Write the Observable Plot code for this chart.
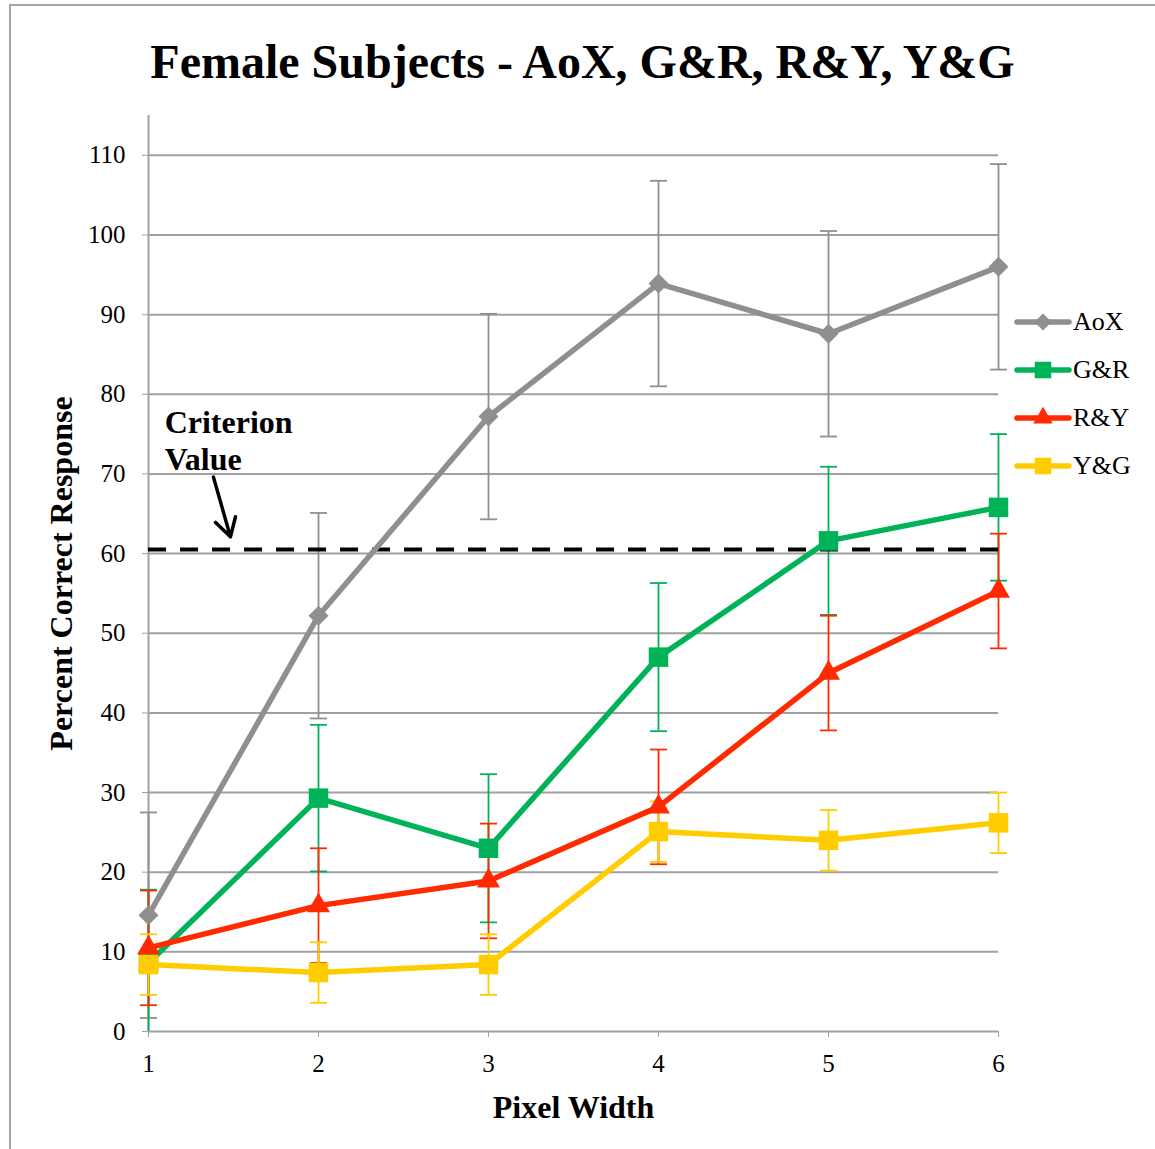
<!DOCTYPE html>
<html>
<head>
<meta charset="utf-8">
<script src="https://cdn.jsdelivr.net/npm/d3@7"></script>
<script src="https://cdn.jsdelivr.net/npm/@observablehq/plot@0.6"></script>
<style>
  html, body { margin: 0; padding: 0; background: #fff; }
  #wrap { position: relative; width: 1155px; height: 1149px; overflow: hidden; font-family: "Liberation Serif", "Times New Roman", serif; }
  #border { position: absolute; left: 9px; top: 4px; right: -5px; bottom: -5px; border-top: 2px solid #a6a6a6; border-left: 2px solid #a6a6a6; }
  #title { position: absolute; left: 0; top: 0; width: 1155px; height: 100px; text-align: center; }
  #title span { position: absolute; left: 0; right: -10px; top: 38px; font-weight: bold; font-size: 48px; line-height: 1; }
  #chart { position: absolute; left: 0; top: 100px; }
  #legend { position: absolute; left: 1013px; top: 302px; }
  .item { height: 48px; display: flex; align-items: flex-start; }
  .item svg { display: block; }
  .item span { font-size: 26px; line-height: 40px; margin-left: 1px; }
</style>
</head>
<body>
<div id="wrap">
  <div id="border"></div>
  <div id="title"><span>Female Subjects - AoX, G&amp;R, R&amp;Y, Y&amp;G</span></div>
  <div id="chart"></div>
  <div id="legend"></div>
</div>
<script>
// ---- data ----
const pixelWidth = [1, 2, 3, 4, 5, 6];
const seriesNames = ["AoX", "G&R", "R&Y", "Y&G"];
const aoxMean = [14.6, 52.2, 77.2, 93.9, 87.6, 96.0];
const aoxErr  = [12.9, 12.9, 12.9, 12.9, 12.9, 12.9];
const grMean  = [8.6, 29.3, 23.0, 47.0, 61.6, 65.8];
const grErr   = [9.2, 9.2, 9.3, 9.3, 9.3, 9.2];
const ryMean  = [10.5, 15.8, 18.9, 28.2, 45.0, 55.3];
const ryErr   = [7.2, 7.2, 7.2, 7.2, 7.2, 7.2];
const ygMean  = [8.4, 7.4, 8.4, 25.1, 24.0, 26.2];
const ygErr   = [3.8, 3.8, 3.8, 3.8, 3.8, 3.8];
const yTicks = [0, 10, 20, 30, 40, 50, 60, 70, 80, 90, 100, 110];
const criterionValue = [60.5];
const criterionLabel = ["Criterion\nValue"];
const criterionLabelX = [1.095];
const criterionLabelY = [74.35];
const arrowFrom = [1.382, 69.6];
const arrowTo = [1.482, 62.1];

// ---- styles ----
const colors = { "AoX": "#8f8f8f", "G&R": "#00b359", "R&Y": "#ff2a00", "Y&G": "#ffcc00" };
const symbols = { "AoX": "diamond2", "G&R": "square", "R&Y": "triangle", "Y&G": "square" };
const radii = { "AoX": 9, "G&R": 11, "R&Y": 8.5, "Y&G": 11 };
const gridColor = "#a0a0a0";

const means = [aoxMean, grMean, ryMean, ygMean];
const errs = [aoxErr, grErr, ryErr, ygErr];
const data = seriesNames.flatMap((s, i) => pixelWidth.map((x, j) => ({
  series: s, x, y: means[i][j], lo: means[i][j] - errs[i][j], hi: means[i][j] + errs[i][j]
})));

const capSymbol = {
  draw(ctx, size) {
    const r = Math.sqrt(size / Math.PI);
    ctx.moveTo(-r, 0); ctx.lineTo(r, 0);
  }
};

const marks = [
  Plot.gridY(yTicks, { stroke: gridColor, strokeOpacity: 1, strokeWidth: 2 }),
  Plot.ruleX([1], { y1: 0, y2: 115, stroke: gridColor, strokeWidth: 2 }),
  Plot.axisY({ ticks: yTicks, tickSize: 6, tickPadding: 17, stroke: gridColor, fill: "black", label: null }),
  Plot.axisX({ ticks: pixelWidth, tickSize: 6, tickPadding: 17, tickFormat: d => String(d), stroke: gridColor, fill: "black", label: null }),
];

for (const s of seriesNames) {
  const d = data.filter(e => e.series === s);
  marks.push(
    Plot.ruleX(d, { x: "x", y1: e => Math.max(0, e.lo), y2: "hi", stroke: colors[s], strokeWidth: 1.8 }),
    Plot.dot(d, { x: "x", y: "hi", symbol: capSymbol, r: 8.5, stroke: colors[s], strokeWidth: 1.8, fill: "none" }),
    Plot.dot(d.filter(e => e.lo >= 0), { x: "x", y: "lo", symbol: capSymbol, r: 8.5, stroke: colors[s], strokeWidth: 1.8, fill: "none" })
  );
}
marks.push(
  Plot.ruleY(criterionValue, { stroke: "black", strokeWidth: 4, strokeDasharray: "18,14" })
);
for (const s of seriesNames) {
  const d = data.filter(e => e.series === s);
  marks.push(
    Plot.line(d, { x: "x", y: "y", stroke: colors[s], strokeWidth: 5.5 }),
    Plot.dot(d, { x: "x", y: "y", symbol: symbols[s], r: radii[s], fill: colors[s], stroke: "none" })
  );
}
marks.push(
  Plot.arrow([0], { x1: () => arrowFrom[0], y1: () => arrowFrom[1], x2: () => arrowTo[0], y2: () => arrowTo[1],
    stroke: "black", strokeWidth: 3.5, headLength: 20, inset: 0 }),
  Plot.text(criterionLabel, { x: () => criterionLabelX[0], y: () => criterionLabelY[0], text: d => d,
    textAnchor: "start", fontWeight: "bold", fontSize: 32, lineHeight: 1.16, fill: "black" }),
  Plot.text(["Pixel Width"], { frameAnchor: "bottom", dy: 86, text: d => d, fontWeight: "bold", fontSize: 32, fill: "black" }),
  Plot.text(["Percent Correct Response"], { frameAnchor: "left", dx: -87, rotate: -90, textAnchor: "middle", text: d => d, fontWeight: "bold", fontSize: 32, fill: "black" })
);

const chart = Plot.plot({
  width: 1155,
  height: 1049,
  marginLeft: 148,
  marginRight: 157,
  marginTop: 15,
  marginBottom: 118,
  style: { fontFamily: "Liberation Serif, Times New Roman, serif", fontSize: "25px", background: "transparent", overflow: "visible" },
  x: { domain: [1, 6] },
  y: { domain: [0, 115] },
  marks
});
document.getElementById("chart").appendChild(chart);

// ---- legend ----
const legend = d3.select("#legend");
for (const s of seriesNames) {
  const item = legend.append("div").attr("class", "item");
  const svg = item.append("svg").attr("width", 59).attr("height", 40);
  svg.append("line").attr("x1", 4).attr("x2", 56).attr("y1", 20).attr("y2", 20)
    .attr("stroke", colors[s]).attr("stroke-width", 5.5).attr("stroke-linecap", "round");
  const symType = { "diamond2": d3.symbolDiamond2, "square": d3.symbolSquare, "triangle": d3.symbolTriangle }[symbols[s]];
  const r = radii[s] * 0.85;
  svg.append("path").attr("transform", "translate(30,20)")
    .attr("d", d3.symbol(symType, Math.PI * r * r)()).attr("fill", colors[s]);
  item.append("span").text(s);
}
</script>
</body>
</html>
